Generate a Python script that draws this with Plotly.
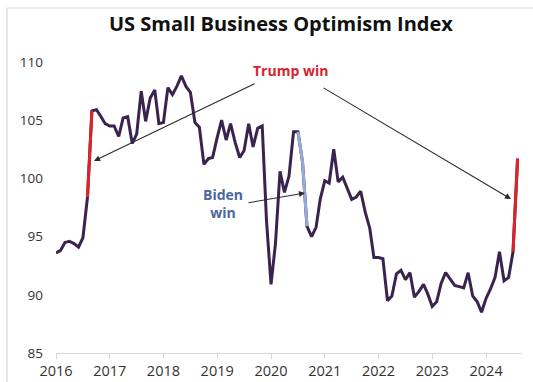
import plotly.graph_objects as go

# NFIB Small Business Optimism Index, monthly, Apr 2016 - Nov 2024
months = [
    "2016-04", "2016-05", "2016-06", "2016-07", "2016-08", "2016-09", "2016-10", "2016-11", "2016-12",
    "2017-01", "2017-02", "2017-03", "2017-04", "2017-05", "2017-06", "2017-07", "2017-08", "2017-09", "2017-10", "2017-11", "2017-12",
    "2018-01", "2018-02", "2018-03", "2018-04", "2018-05", "2018-06", "2018-07", "2018-08", "2018-09", "2018-10", "2018-11", "2018-12",
    "2019-01", "2019-02", "2019-03", "2019-04", "2019-05", "2019-06", "2019-07", "2019-08", "2019-09", "2019-10", "2019-11", "2019-12",
    "2020-01", "2020-02", "2020-03", "2020-04", "2020-05", "2020-06", "2020-07", "2020-08", "2020-09", "2020-10", "2020-11", "2020-12",
    "2021-01", "2021-02", "2021-03", "2021-04", "2021-05", "2021-06", "2021-07", "2021-08", "2021-09", "2021-10", "2021-11", "2021-12",
    "2022-01", "2022-02", "2022-03", "2022-04", "2022-05", "2022-06", "2022-07", "2022-08", "2022-09", "2022-10", "2022-11", "2022-12",
    "2023-01", "2023-02", "2023-03", "2023-04", "2023-05", "2023-06", "2023-07", "2023-08", "2023-09", "2023-10", "2023-11", "2023-12",
    "2024-01", "2024-02", "2024-03", "2024-04", "2024-05", "2024-06", "2024-07", "2024-08", "2024-09", "2024-10", "2024-11",
]
index_values = [
    93.6, 93.8, 94.5, 94.6, 94.4, 94.1, 94.9, 98.4, 105.8,
    105.9, 105.3, 104.7, 104.5, 104.5, 103.6, 105.2, 105.3, 103.0, 103.8, 107.5, 104.9,
    106.9, 107.6, 104.7, 104.8, 107.8, 107.2, 107.9, 108.8, 107.9, 107.4, 104.8, 104.4,
    101.2, 101.7, 101.8, 103.5, 105.0, 103.3, 104.7, 103.1, 101.8, 102.4, 104.7, 102.7,
    104.3, 104.5, 96.4, 90.9, 94.4, 100.6, 98.8, 100.2, 104.0, 104.0, 101.4, 95.9,
    95.0, 95.8, 98.2, 99.8, 99.6, 102.5, 99.7, 100.1, 99.1, 98.2, 98.4, 98.9,
    97.1, 95.7, 93.2, 93.2, 93.1, 89.5, 89.9, 91.8, 92.1, 91.3, 91.9, 89.8,
    90.3, 90.9, 90.1, 89.0, 89.4, 91.0, 91.9, 91.3, 90.8, 90.7, 90.6, 91.9,
    89.9, 89.4, 88.5, 89.7, 90.5, 91.5, 93.7, 91.2, 91.5, 93.7, 101.7,
]

# post-election jumps highlighted on top of the main line
trump_2016 = ("2016-11", "2016-12")
biden_2020 = ("2020-10", "2020-12")
trump_2024 = ("2024-10", "2024-11")

# axis ticks: one per 12 months, starting at the first observation
tick_months = ["2016-04", "2017-04", "2018-04", "2019-04", "2020-04",
               "2021-04", "2022-04", "2023-04", "2024-04"]
tick_labels = ["2016", "2017", "2018", "2019", "2020", "2021", "2022", "2023", "2024"]
y_ticks = [85, 90, 95, 100, 105, 110]

PURPLE = "#3b2350"
RED = "#e0202a"
BLUE = "#93abd9"
FONT = "Open Sans"


def segment(span):
    i0, i1 = months.index(span[0]), months.index(span[1])
    return months[i0:i1 + 1], index_values[i0:i1 + 1]


fig = go.Figure()
fig.add_trace(go.Scatter(x=months, y=index_values, mode="lines",
                         line=dict(color=PURPLE, width=3), hoverinfo="x+y"))
for span, color in ((trump_2016, RED), (biden_2020, BLUE), (trump_2024, RED)):
    sx, sy = segment(span)
    fig.add_trace(go.Scatter(x=sx, y=sy, mode="lines",
                             line=dict(color=color, width=3), hoverinfo="x+y"))

W, H = 533, 382
ml, mr, mt, mb = 56, 11, 62, 29
pw, ph = W - ml - mr, H - mt - mb


def px(xp, yp):
    """pixel position on the page -> paper coordinates"""
    return (xp - ml) / pw, (H - mb - yp) / ph


annotations = []
# title
annotations.append(dict(text="<b>US Small Business Optimism Index</b>",
                        xref="paper", yref="paper", x=px(281, 0)[0], y=px(0, 23)[1],
                        showarrow=False, xanchor="center", yanchor="middle",
                        font=dict(family=FONT, size=20, color="#111111")))
# labels
tx, ty = px(290, 70)
annotations.append(dict(text="<b>Trump win</b>", xref="paper", yref="paper", x=tx, y=ty,
                        showarrow=False, xanchor="center", yanchor="middle",
                        font=dict(family=FONT, size=14, color="#d42430")))
bx, by = px(223, 203)
annotations.append(dict(text="<b>Biden</b><br><b>win</b>", xref="paper", yref="paper", x=bx, y=by,
                        showarrow=False, xanchor="center", yanchor="middle",
                        font=dict(family=FONT, size=14, color="#4a679e")))
# arrows (tip, tail) in page pixels
arrows = [((94, 161), (256, 83)), ((511, 199), (322, 87)), ((305, 193), (247, 203))]
for (hx, hy), (sx_, sy_) in arrows:
    ax_, ay_ = px(hx, hy)
    annotations.append(dict(text="", xref="paper", yref="paper", x=ax_, y=ay_,
                            showarrow=True, arrowhead=2, arrowsize=1.1, arrowwidth=1.1,
                            arrowcolor="#2a2a2a", standoff=0, startstandoff=0,
                            ax=sx_ - hx, ay=sy_ - hy))

# thin chart-area frame (left and top edges)
shapes = [
    dict(type="line", xref="paper", yref="paper", x0=px(7, 0)[0], x1=px(7, 0)[0],
         y0=px(0, 8)[1], y1=px(0, H + 5)[1], line=dict(color="#d6d6d6", width=1.2)),
    dict(type="line", xref="paper", yref="paper", x0=px(7, 0)[0], x1=px(W + 5, 0)[0],
         y0=px(0, 8)[1], y1=px(0, 8)[1], line=dict(color="#d6d6d6", width=1.2)),
]

fig.update_layout(
    width=W, height=H,
    margin=dict(l=ml, r=mr, t=mt, b=mb, pad=0, autoexpand=False),
    paper_bgcolor="white", plot_bgcolor="white",
    showlegend=False,
    annotations=annotations, shapes=shapes,
    xaxis=dict(type="date", range=["2016-04-01", "2024-12-01"],
               tickvals=tick_months, ticktext=tick_labels, automargin=False,
               showgrid=False, zeroline=False,
               showline=True, linecolor="#d9d9d9", linewidth=1,
               ticks="outside", ticklen=5, tickcolor="#d9d9d9",
               tickfont=dict(family=FONT, size=14.5, color="#333333")),
    yaxis=dict(range=[85, 110], tickvals=y_ticks, automargin=False,
               showgrid=False, zeroline=False, showline=False,
               ticks="", ticklabelstandoff=12,
               tickfont=dict(family=FONT, size=13.5, color="#333333")),
)

fig.write_html("out.html")
